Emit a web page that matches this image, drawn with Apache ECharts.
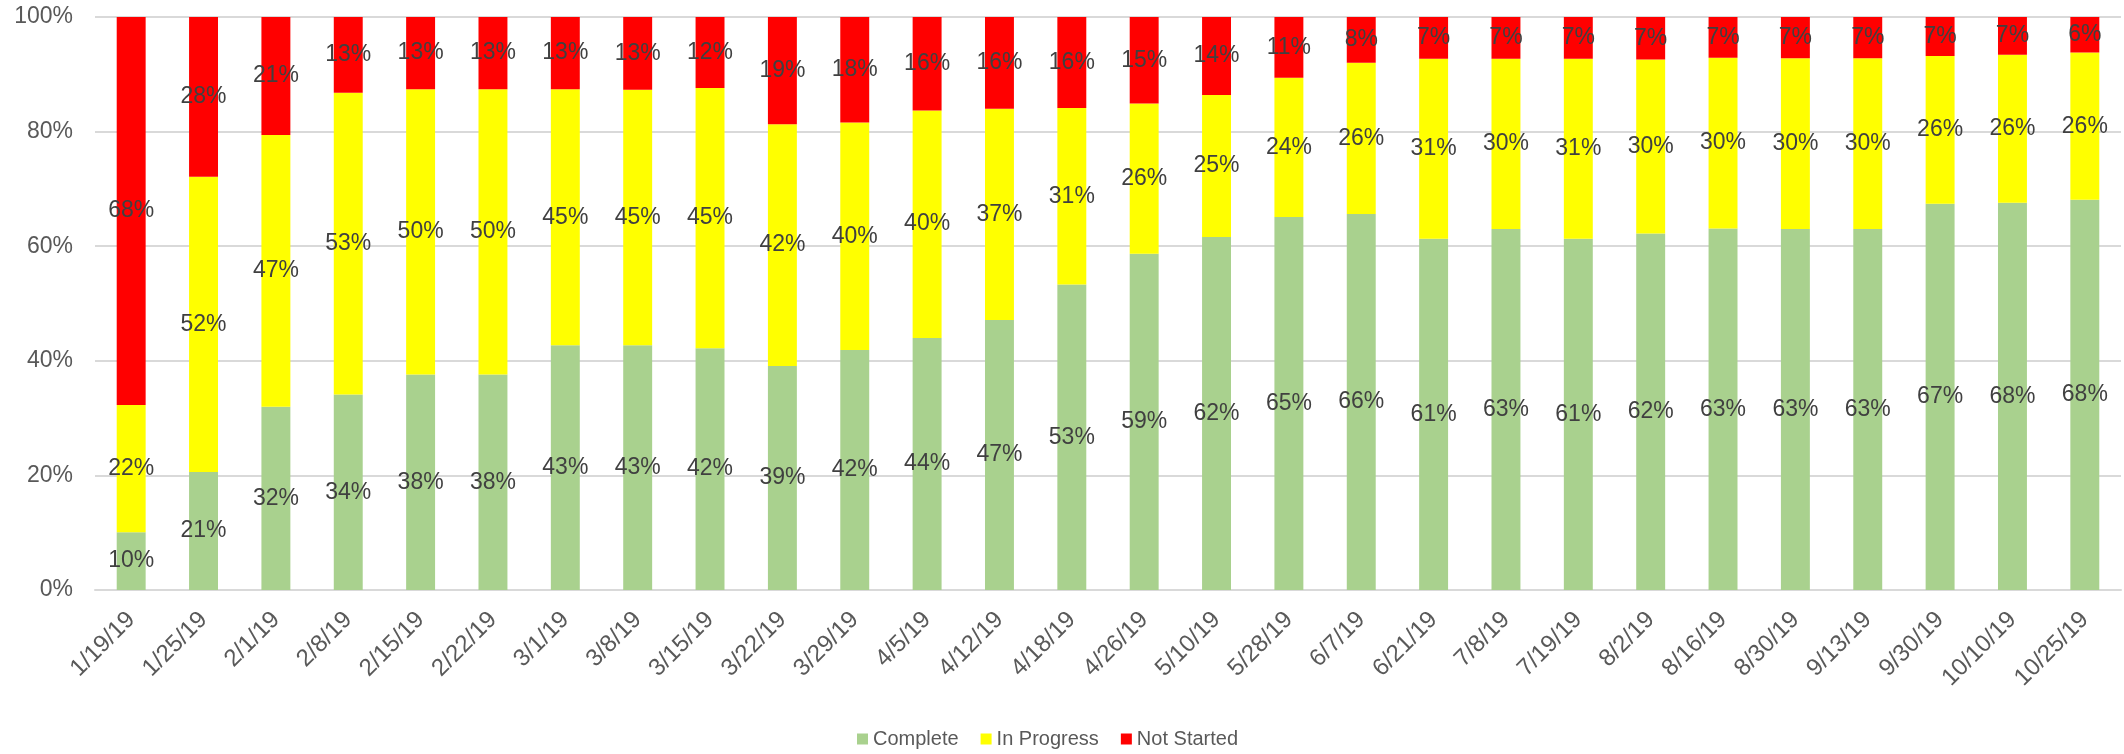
<!DOCTYPE html>
<html>
<head>
<meta charset="utf-8">
<script src="https://cdn.jsdelivr.net/npm/echarts@6/dist/echarts.min.js"></script>
<style>
html,body{margin:0;padding:0;background:#fff;}
#chart{width:2124px;height:754px;}
</style>
</head>
<body>
<div id="chart"></div>
<script>
const categories = ['1/19/19','1/25/19','2/1/19','2/8/19','2/15/19','2/22/19','3/1/19','3/8/19','3/15/19','3/22/19','3/29/19','4/5/19','4/12/19','4/18/19','4/26/19','5/10/19','5/28/19','6/7/19','6/21/19','7/8/19','7/19/19','8/2/19','8/16/19','8/30/19','9/13/19','9/30/19','10/10/19','10/25/19'];
const complete   = [10.1,20.6,32.0,34.1,37.6,37.6,42.7,42.7,42.2,39.1,41.9,44.0,47.1,53.3,58.7,61.6,65.1,65.6,61.3,63.0,61.3,62.2,63.1,63.0,63.0,67.4,67.6,68.1];
const inProgress = [22.2,51.5,47.4,52.7,49.8,49.8,44.7,44.6,45.4,42.2,39.7,39.7,36.9,30.8,26.2,24.8,24.3,26.4,31.4,29.7,31.4,30.4,29.8,29.8,29.8,25.8,25.8,25.7];
const notStarted = [67.7,27.9,20.6,13.2,12.6,12.6,12.6,12.7,12.4,18.7,18.4,16.3,16.0,15.9,15.1,13.6,10.6,8.0,7.3,7.3,7.3,7.4,7.1,7.2,7.2,6.8,6.6,6.2];
const yTicks = [0,20,40,60,80,100];

const FONT = '"Liberation Sans", Arial, sans-serif';
const labelCfg = {
  show: true,
  position: 'inside',
  color: '#404040',
  fontSize: 23,
  fontFamily: FONT,
  formatter: p => Math.round(p.value) + '%'
};
function mk(name, data, color) {
  return {
    name, type: 'bar', stack: 'total', data,
    barCategoryGap: '60%',
    itemStyle: { color },
    label: labelCfg,
    emphasis: { disabled: true }
  };
}
const chart = echarts.init(document.getElementById('chart'));
chart.setOption({
  animation: false,
  grid: { left: 95, right: 3, top: 17, bottom: 164, containLabel: false },
  legend: {
    left: 852, bottom: 0,
    itemWidth: 11, itemHeight: 11, itemGap: 22,
    icon: 'rect',
    textStyle: { color: '#595959', fontSize: 20, fontFamily: FONT },
    data: ['Complete','In Progress','Not Started']
  },
  xAxis: {
    type: 'category',
    data: categories,
    axisLine: { lineStyle: { color: '#d9d9d9', width: 2 } },
    axisTick: { show: false },
    axisLabel: { rotate: 45, color: '#595959', fontSize: 24, fontFamily: FONT, margin: 26, interval: 0 }
  },
  yAxis: {
    type: 'value', min: yTicks[0], max: yTicks[yTicks.length-1], interval: 20,
    axisLine: { show: false },
    axisTick: { show: false },
    splitLine: { lineStyle: { color: '#d9d9d9', width: 2 } },
    axisLabel: { formatter: '{value}%', color: '#595959', fontSize: 23, fontFamily: FONT, margin: 22 }
  },
  series: [
    mk('Complete', complete, '#A9D18E'),
    mk('In Progress', inProgress, '#FFFF00'),
    mk('Not Started', notStarted, '#FF0000')
  ]
});
</script>
</body>
</html>
